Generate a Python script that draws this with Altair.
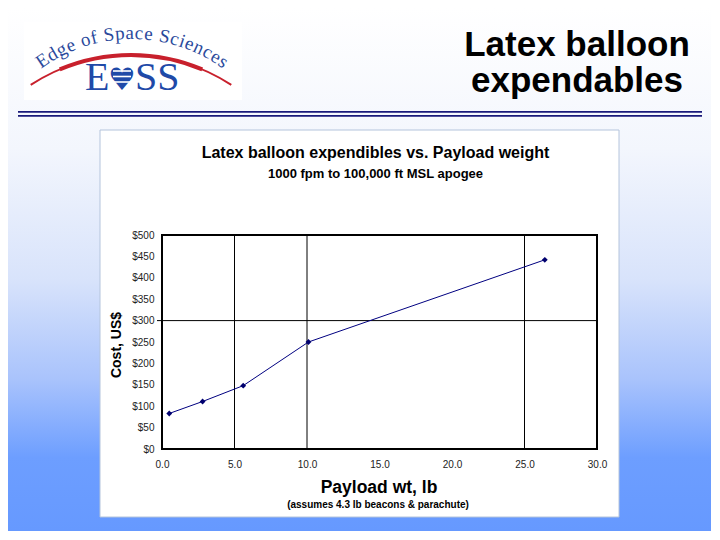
import math
import altair as alt
import pandas as pd

# ---------------- data ----------------
payload_lb = [0.5, 2.8, 5.6, 10.1, 26.4]
cost_usd = [83, 111, 148, 250, 442]
x_ticks = [0, 5, 10, 15, 20, 25, 30]
y_ticks = [0, 50, 100, 150, 200, 250, 300, 350, 400, 450, 500]
x_grid = [5, 10, 25]
y_grid = [300]

slide_title = ["Latex balloon", "expendables"]
chart_title = "Latex balloon expendibles vs. Payload weight"
chart_subtitle = "1000 fpm to 100,000 ft MSL apogee"
x_title = "Payload wt, lb"
x_note = "(assumes 4.3 lb beacons & parachute)"
y_title = "Cost, US$"
logo_arc_text = "Edge of Space Sciences"

SANS = "Liberation Sans"
SERIF = "Liberation Serif"

# ---------------- layout ----------------
W, H = 435, 214          # plot area
OX, OY = 162, 235        # page position of plot origin


def px(x):
    return x - OX


def py(y):
    return y - OY


one = alt.Chart(pd.DataFrame({"k": [0]}))


def rect(x1, y1, x2, y2, **kw):
    return one.mark_rect(**kw).encode(
        x=alt.value(px(x1)), x2=alt.value(px(x2)),
        y=alt.value(py(y1)), y2=alt.value(py(y2)))


def text(s, x, y, **kw):
    kw.setdefault("font", SANS)
    return one.mark_text(text=s, **kw).encode(x=alt.value(px(x)), y=alt.value(py(y)))


def hrule(x1, x2, y, **kw):
    return one.mark_rule(**kw).encode(
        x=alt.value(px(x1)), x2=alt.value(px(x2)), y=alt.value(py(y)))


layers = []

# slide background gradient
grad = alt.LinearGradient(
    gradient="linear", x1=0, x2=0, y1=0, y2=1,
    stops=[alt.GradientStop(color="#ffffff", offset=0),
           alt.GradientStop(color="#f3f6fd", offset=0.27),
           alt.GradientStop(color="#d8e3fb", offset=0.52),
           alt.GradientStop(color="#a9c3fc", offset=0.71),
           alt.GradientStop(color="#6d9eff", offset=0.86),
           alt.GradientStop(color="#6699ff", offset=1)])
layers.append(rect(8, 8, 711, 531, color=grad))

# logo
layers.append(rect(24, 22, 242, 100, color="#ffffff"))
TWOPI = 2 * math.pi
layers.append(one.mark_arc(theta=TWOPI - 0.58, theta2=TWOPI + 0.58, radius=184, radius2=182,
                           color="#c8202c").encode(x=alt.value(px(131)), y=alt.value(py(238))))
layers.append(one.mark_arc(theta=TWOPI - 0.4, theta2=TWOPI + 0.4, radius=185, radius2=181,
                           color="#c8202c").encode(x=alt.value(px(131)), y=alt.value(py(238))))

times_w = {"E": 611, "d": 500, "g": 500, "e": 444, " ": 250, "o": 500, "f": 333, "S": 556,
           "p": 500, "a": 444, "c": 444, "i": 278, "n": 500, "s": 389}
LSIZE = 19
widths = [times_w.get(c, 500) * LSIZE / 1000 + 1.0 for c in logo_arc_text]
R, CX, CY = 160, 132, 193
s = -sum(widths) / 2
for c, w in zip(logo_arc_text, widths):
    mid = s + w / 2
    th = mid / R
    s += w
    if c == " ":
        continue
    x = CX + R * math.sin(th)
    y = CY - R * math.cos(th)
    layers.append(text(c, x, y, font=SERIF, fontSize=LSIZE, color="#2b4a9c",
                       angle=math.degrees(th) % 360, align="center", baseline="middle"))

layers.append(text("E", 85, 90, font=SERIF, fontSize=40, color="#1f4aa8", align="left", baseline="alphabetic"))
layers.append(text("\u2665", 122, 90, font="DejaVu Sans", fontSize=31, color="#1f4aa8",
                   align="center", baseline="alphabetic"))
for yy in (71, 76.5, 82):
    layers.append(hrule(113, 131, yy, color="#ffffff", strokeWidth=1.6))
layers.append(text("SS", 135, 90, font=SERIF, fontSize=40, color="#1f4aa8", align="left", baseline="alphabetic"))

# slide title
layers.append(text(slide_title[0], 577, 56, fontSize=35, fontWeight="bold", color="#000000",
                   align="center", baseline="alphabetic"))
layers.append(text(slide_title[1], 577, 92, fontSize=35, fontWeight="bold", color="#000000",
                   align="center", baseline="alphabetic"))

# double blue rule
layers.append(hrule(18, 702, 111.8, color="#1a1a7a", strokeWidth=1.7))
layers.append(hrule(18, 702, 115.8, color="#1a1a7a", strokeWidth=1.7))

# chart box
layers.append(rect(100, 130, 619, 517, color="#ffffff", stroke="#b4c4dc", strokeWidth=1))

# chart texts
layers.append(text(chart_title, 375.5, 158, fontSize=16, fontWeight="bold", color="#000000",
                   align="center", baseline="alphabetic"))
layers.append(text(chart_subtitle, 375.5, 178, fontSize=13, fontWeight="bold", color="#000000",
                   align="center", baseline="alphabetic"))
layers.append(text(x_title, 379, 493, fontSize=17.5, fontWeight="bold", color="#000000",
                   align="center", baseline="alphabetic"))
layers.append(text(x_note, 378, 508, fontSize=10, fontWeight="bold", color="#000000",
                   align="center", baseline="alphabetic"))
layers.append(text(y_title, 117, 345, fontSize=14, fontWeight="bold", color="#000000",
                   angle=270, align="center", baseline="middle"))

# ---------------- data layers ----------------
xs = alt.Scale(domain=[0, 30], nice=False, zero=False)
ys = alt.Scale(domain=[0, 500], nice=False)
xaxis = alt.Axis(values=x_ticks, format=".1f", title=None, grid=False, ticks=False, domain=False,
                 labelFont=SANS, labelFontSize=10, labelColor="#222222", labelPadding=10,
                 labelFlush=False, labelOverlap=False, zindex=1)
yaxis = alt.Axis(values=y_ticks, format="$,.0f", title=None, grid=False, ticks=False, domain=False,
                 labelFont=SANS, labelFontSize=10, labelColor="#222222", labelPadding=8,
                 labelFlush=False, labelOverlap=False, zindex=1)

df = pd.DataFrame({"payload": payload_lb, "cost": cost_usd})

gx = alt.Chart(pd.DataFrame({"gx": x_grid})).mark_rule(color="#000000", strokeWidth=1).encode(
    x=alt.X("gx:Q", scale=xs, axis=xaxis), y=alt.value(0), y2=alt.value(H))
gy = alt.Chart(pd.DataFrame({"gy": y_grid})).mark_rule(color="#000000", strokeWidth=1).encode(
    y=alt.Y("gy:Q", scale=ys, axis=yaxis), x=alt.value(-5), x2=alt.value(W))
line = alt.Chart(df).mark_line(color="#000080", strokeWidth=1).encode(
    x=alt.X("payload:Q", scale=xs, axis=xaxis), y=alt.Y("cost:Q", scale=ys, axis=yaxis))
pts = alt.Chart(df).mark_point(shape="diamond", filled=True, size=34, color="#00006e", opacity=1).encode(
    x=alt.X("payload:Q", scale=xs, axis=xaxis), y=alt.Y("cost:Q", scale=ys, axis=yaxis))
border = one.mark_rect(fillOpacity=0, stroke="#000000", strokeWidth=2).encode(
    x=alt.value(0), x2=alt.value(W), y=alt.value(0), y2=alt.value(H))

layers += [gx, gy, line, pts, border]

chart = alt.layer(*layers).properties(
    width=W, height=H,
    autosize=alt.AutoSizeParams(type="none"),
    padding={"left": 154, "top": 227, "right": 114, "bottom": 82},
).configure_view(stroke=None)

chart.save("out.html", embed_options={"renderer": "svg", "actions": False})
